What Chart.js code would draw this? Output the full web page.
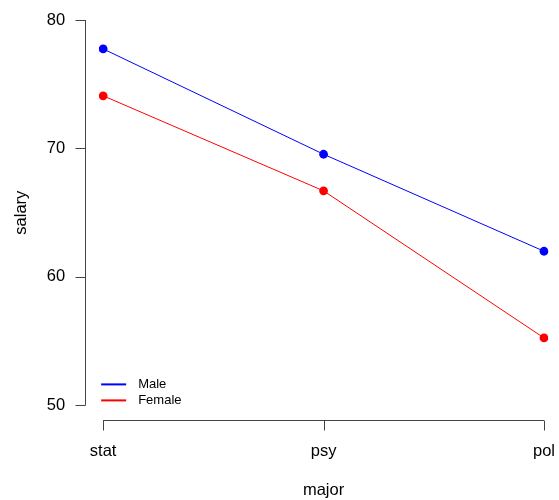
<!DOCTYPE html>
<html>
<head>
<meta charset="utf-8">
<script src="https://cdn.jsdelivr.net/npm/chart.js@4/dist/chart.umd.min.js"></script>
<style>
  html, body { margin: 0; padding: 0; background: #fff; }
  #wrap { width: 559px; height: 500px; }
</style>
</head>
<body>
<div id="wrap"><canvas id="salaryChart" width="559" height="500"></canvas></div>
<script>
const majors = ["stat", "psy", "pol"];
const maleSalary = [77.75, 69.55, 62.0];
const femaleSalary = [74.1, 66.7, 55.25];
const yTicks = [50, 60, 70, 80];

const FONT = "'Liberation Sans', Arial, sans-serif";

// R-style detached axes: lines offset from the plotting region
const rAxes = {
  id: "rAxes",
  afterDraw(chart) {
    const { ctx, chartArea, scales } = chart;
    const x = scales.x, y = scales.y;
    ctx.save();
    ctx.strokeStyle = "#444";
    ctx.lineWidth = 1;
    ctx.beginPath();
    const ax = Math.round(chartArea.left - 18) + 0.5;
    ctx.moveTo(ax, y.getPixelForValue(80));
    ctx.lineTo(ax, y.getPixelForValue(50));
    yTicks.forEach(v => {
      const py = Math.round(y.getPixelForValue(v)) + 0.5;
      ctx.moveTo(ax, py);
      ctx.lineTo(ax - 10, py);
    });
    const ay = Math.round(chartArea.bottom + 15) + 0.5;
    ctx.moveTo(x.getPixelForValue(0), ay);
    ctx.lineTo(x.getPixelForValue(majors.length - 1), ay);
    majors.forEach((m, i) => {
      const px = Math.round(x.getPixelForValue(i)) + 0.5;
      ctx.moveTo(px, ay);
      ctx.lineTo(px, ay + 10);
    });
    ctx.stroke();
    ctx.restore();
  }
};

// legend in the bottom-left corner of the plot, line samples like R's legend()
const insetLegend = {
  id: "insetLegend",
  afterDraw(chart) {
    const { ctx, chartArea } = chart;
    const sets = chart.data.datasets;
    ctx.save();
    ctx.font = "13px " + FONT;
    ctx.textBaseline = "middle";
    sets.forEach((ds, i) => {
      const yy = chartArea.bottom - 21 + i * 16;
      const x0 = chartArea.left - 2;
      ctx.strokeStyle = ds.borderColor;
      ctx.lineWidth = 2;
      ctx.beginPath();
      ctx.moveTo(x0, yy);
      ctx.lineTo(x0 + 25, yy);
      ctx.stroke();
      ctx.fillStyle = "#000";
      ctx.fillText(ds.label, x0 + 37, yy);
    });
    ctx.restore();
  }
};

new Chart(document.getElementById("salaryChart"), {
  type: "line",
  data: {
    labels: majors,
    datasets: [
      {
        label: "Male",
        data: maleSalary,
        borderColor: "#0000ff",
        backgroundColor: "#0000ff",
        borderWidth: 1,
        pointRadius: 4.4,
        pointBorderWidth: 0,
        tension: 0
      },
      {
        label: "Female",
        data: femaleSalary,
        borderColor: "#ff0000",
        backgroundColor: "#ff0000",
        borderWidth: 1,
        pointRadius: 4.4,
        pointBorderWidth: 0,
        tension: 0
      }
    ]
  },
  options: {
    responsive: false,
    animation: false,
    layout: { padding: { left: 0, right: 15, top: 20, bottom: 0 } },
    plugins: {
      tooltip: { enabled: false },
      legend: { display: false }
    },
    scales: {
      x: {
        offset: false,
        grid: { display: false, drawTicks: true, tickLength: 36 },
        border: { display: false },
        ticks: { color: "#000", padding: 0, font: { family: FONT, size: 16.5 } },
        title: {
          display: true,
          text: "major",
          color: "#000",
          font: { family: FONT, size: 16.5 },
          padding: { top: 19, bottom: 0 }
        }
      },
      y: {
        min: 50,
        max: 80,
        afterBuildTicks(scale) {
          scale.ticks = yTicks.map(v => ({ value: v }));
        },
        grid: { display: false, drawTicks: true, tickLength: 38 },
        border: { display: false },
        ticks: { color: "#000", padding: 0, font: { family: FONT, size: 16.5 } },
        title: {
          display: true,
          text: "salary",
          color: "#000",
          font: { family: FONT, size: 16.5 },
          padding: { top: 12, bottom: 15 }
        }
      }
    }
  },
  plugins: [rAxes, insetLegend]
});
</script>
</body>
</html>
